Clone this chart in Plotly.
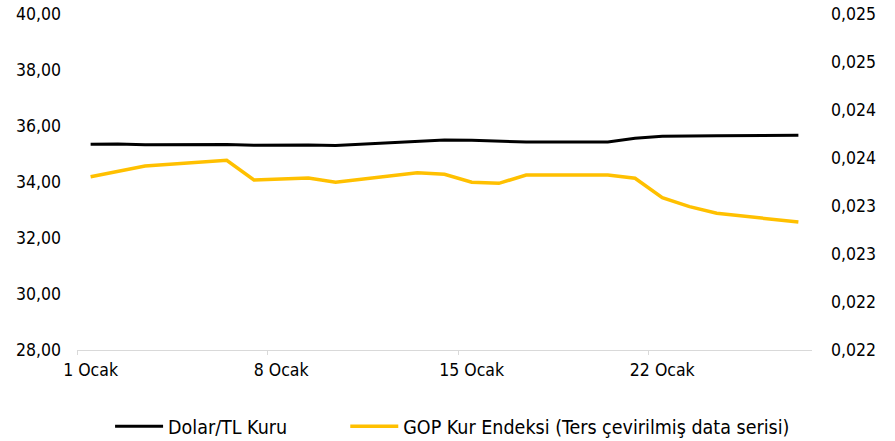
import plotly.graph_objects as go

dates = ["2025-01-01", "2025-01-02", "2025-01-03", "2025-01-06", "2025-01-07",
         "2025-01-08", "2025-01-09", "2025-01-10", "2025-01-13", "2025-01-14",
         "2025-01-15", "2025-01-16", "2025-01-17", "2025-01-20", "2025-01-21",
         "2025-01-22", "2025-01-23", "2025-01-24", "2025-01-27"]

usd_try = [35.35, 35.36, 35.33, 35.34, 35.31, 35.32, 35.32, 35.30, 35.43, 35.50,
           35.49, 35.46, 35.43, 35.43, 35.56, 35.63, 35.65, 35.65, 35.67]

gop_index = [0.023305, 0.023360, 0.023417, 0.023476, 0.023271, 0.023281, 0.023292,
             0.023247, 0.023347, 0.023330, 0.023247, 0.023236, 0.023323, 0.023323,
             0.023289, 0.023086, 0.022993, 0.022924, 0.022833]

x_tick_vals = ["2025-01-01", "2025-01-08", "2025-01-15", "2025-01-22"]
x_tick_text = ["1 Ocak", "8 Ocak", "15 Ocak", "22 Ocak"]
x_minor_ticks = ["2024-12-31 12:00", "2025-01-07 12:00", "2025-01-14 12:00", "2025-01-21 12:00"]

y2_tick_vals = [0.0215, 0.0220, 0.0225, 0.0230, 0.0235, 0.0240, 0.0245, 0.0250]
y2_tick_text = ["0,022", "0,022", "0,023", "0,023", "0,024", "0,024", "0,025", "0,025"]

FONT = "DejaVu Sans Condensed"

fig = go.Figure()
fig.add_trace(go.Scatter(x=dates, y=usd_try, name="Dolar/TL Kuru", mode="lines",
                         line=dict(color="#000000", width=3), legend="legend"))
fig.add_trace(go.Scatter(x=dates, y=gop_index, name="GOP Kur Endeksi (Ters çevirilmiş data serisi)",
                         mode="lines", line=dict(color="#FFC000", width=3.5), yaxis="y2",
                         legend="legend2"))

leg_common = dict(orientation="h", y=-0.286, yanchor="bottom", itemwidth=48,
                  font=dict(family=FONT, size=19.5, color="#000000"),
                  bgcolor="rgba(0,0,0,0)")

fig.update_layout(
    width=895, height=441,
    margin=dict(l=77, r=83, t=14, b=91, autoexpand=False),
    paper_bgcolor="white", plot_bgcolor="white",
    separators=",.",
    font=dict(family=FONT, size=17.5, color="#000000"),
    showlegend=True,
    legend=dict(x=0.045, xanchor="left", **leg_common),
    legend2=dict(x=0.365, xanchor="left", **leg_common),
    xaxis=dict(type="date", range=["2024-12-31 12:00", "2025-01-27 12:00"],
               tickmode="array", tickvals=x_tick_vals, ticktext=x_tick_text,
               ticks="", showgrid=False, zeroline=False,
               showline=True, linecolor="#d9d9d9", linewidth=1,
               ticklabelstandoff=4,
               minor=dict(tickmode="array", tickvals=x_minor_ticks, ticks="outside",
                          ticklen=4, tickcolor="#d9d9d9", tickwidth=1, showgrid=False)),
    yaxis=dict(range=[28, 40], tickmode="linear", tick0=28, dtick=2, tickformat=".2f",
               showgrid=False, zeroline=False, showline=False, ticks="",
               ticklabelstandoff=15, ticklabeloverflow="allow"),
    yaxis2=dict(range=[0.0215, 0.025], overlaying="y", side="right",
                tickmode="array", tickvals=y2_tick_vals, ticktext=y2_tick_text,
                showgrid=False, zeroline=False, showline=False, ticks="",
                ticklabelstandoff=18, ticklabeloverflow="allow"),
)

fig.write_html("out.html", config={"displayModeBar": False},
               post_script="document.body.style.margin='0';document.body.style.overflow='hidden';")
